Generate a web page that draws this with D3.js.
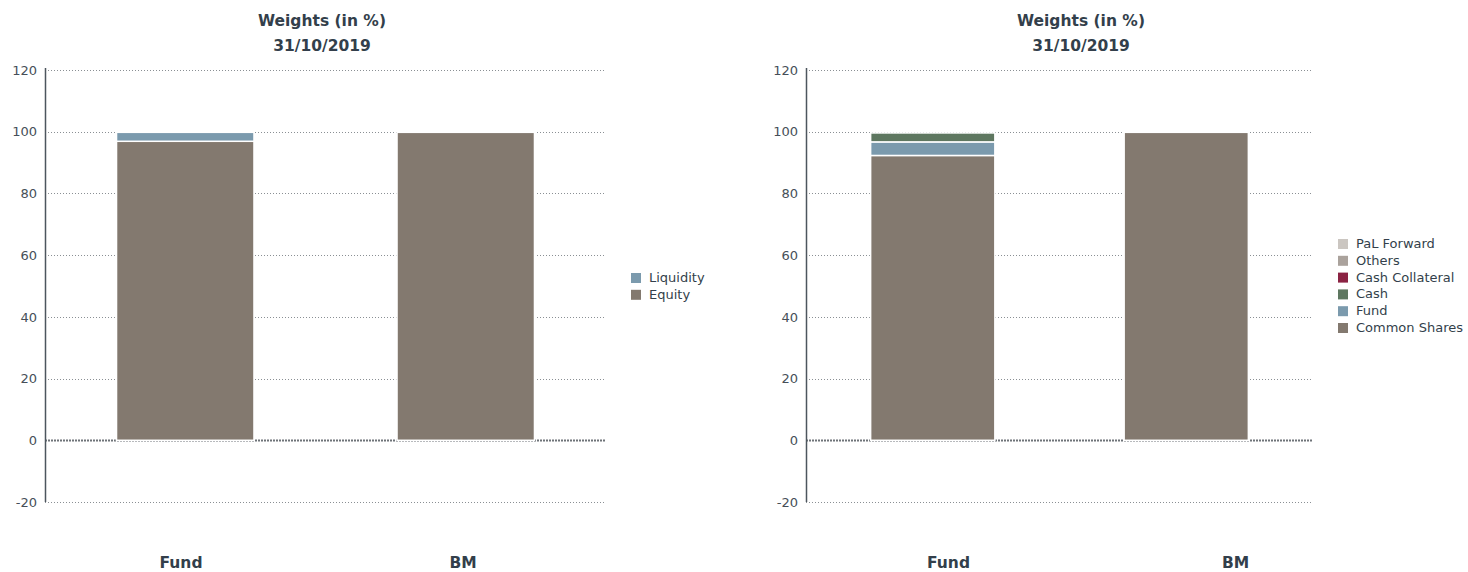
<!DOCTYPE html>
<html><head><meta charset="utf-8">
<script src="https://cdn.jsdelivr.net/npm/d3@7/dist/d3.min.js"></script>
<style>
body{margin:0;background:#fff;}
svg{display:block;font-family:"DejaVu Sans",Verdana,sans-serif;}
</style></head>
<body><svg id="c" width="1468" height="572"></svg>
<script>
const categories = ["Fund", "BM"];
const yTicks = [-20, 0, 20, 40, 60, 80, 100, 120];
const titleLines = ["Weights (in %)", "31/10/2019"];

// Chart 1 (asset class)
const series1Names = ["Equity", "Liquidity"];
const equity = [96.9, 99.8];
const liquidity = [2.9, 0];
const series1Colors = ["#83796f", "#7b9aad"];

// Chart 2 (instrument type)
const series2Names = ["Common Shares", "Fund", "Cash", "Cash Collateral", "Others", "PaL Forward"];
const commonShares = [92.3, 99.8];
const fundShares = [4.4, 0];
const cash = [2.9, 0];
const cashCollateral = [0, 0];
const others = [0, 0];
const palForward = [0, 0];
const series2Colors = ["#83796f", "#7b9aad", "#5e7760", "#8b2343", "#aaa29c", "#cbc6c1"];

const svg = d3.select("#c");

function drawChart(cfg) {
  const {x0, x1, names, values, colors, legendX, legendY, labelRange, titleX} = cfg;
  const g = svg.append("g");
  const y = d3.scaleLinear().domain([-20, 120]).range([502, 70]);
  const x = d3.scaleBand().domain(categories).range([x0, x1]).paddingInner(0.51).paddingOuter(0.255);
  const xl = d3.scaleBand().domain(categories).range(labelRange);

  // grid
  g.selectAll(".grid").data(yTicks.filter(d => d !== 0)).join("line")
    .attr("x1", x0).attr("x2", x1)
    .attr("y1", d => Math.round(y(d)) + 0.5).attr("y2", d => Math.round(y(d)) + 0.5)
    .attr("stroke", "#8a8f94").attr("stroke-width", 1).attr("stroke-dasharray", "1,2");
  // zero line
  g.append("line").attr("x1", x0).attr("x2", x1)
    .attr("y1", Math.round(y(0)) + 0.5).attr("y2", Math.round(y(0)) + 0.5)
    .attr("stroke", "#6e7378").attr("stroke-width", 2).attr("stroke-dasharray", "2,1");

  // axis
  const ax = g.append("g").attr("transform", `translate(${x0},0)`)
    .call(d3.axisLeft(y).tickValues(yTicks).tickFormat(d => String(d)).tickSize(0).tickPadding(8));
  ax.select(".domain").attr("stroke", "#4d565e").attr("stroke-width", 1.5).attr("d", `M0.5,${y(120) - 2}V${y(-20)}`);
  ax.selectAll("text").attr("font-size", 13).attr("fill", "#464f58").attr("font-family", "DejaVu Sans, Verdana, sans-serif");

  // stacked bars
  const stackData = categories.map((c, i) => {
    const o = {cat: c};
    names.forEach((n, k) => o[n] = values[k][i]);
    return o;
  });
  const stack = d3.stack().keys(names)(stackData);
  stack.forEach((layer, k) => {
    g.selectAll(null).data(layer.filter(d => d[1] - d[0] > 0)).join("rect")
      .attr("x", d => x(d.data.cat))
      .attr("width", x.bandwidth())
      .attr("y", d => y(d[1]))
      .attr("height", d => y(d[0]) - y(d[1]))
      .attr("fill", colors[k])
      .attr("stroke", "#fff").attr("stroke-width", 1.5);
  });

  // category labels
  g.selectAll(".cat").data(categories).join("text")
    .attr("x", d => xl(d) + xl.bandwidth() / 2).attr("y", 568)
    .attr("text-anchor", "middle").attr("font-size", 15.5).attr("font-weight", "bold")
    .attr("fill", "#333f4b").text(d => d);

  // title
  g.selectAll(".title").data(titleLines).join("text")
    .attr("x", titleX).attr("y", (d, i) => 26 + i * 25)
    .attr("text-anchor", "middle").attr("font-size", 15.5).attr("font-weight", "bold")
    .attr("fill", "#333f4b").text(d => d);

  // legend (reverse order)
  const leg = names.map((n, k) => ({n, c: colors[k]})).reverse();
  const lg = g.append("g").attr("transform", `translate(${legendX},${legendY})`);
  leg.forEach((d, i) => {
    lg.append("rect").attr("x", 0).attr("y", i * 16.8 - 9).attr("width", 10).attr("height", 10).attr("fill", d.c);
    lg.append("text").attr("x", 18).attr("y", i * 16.8).attr("font-size", 13)
      .attr("fill", "#333f4b").text(d.n);
  });
}

drawChart({x0: 45, x1: 606, names: series1Names, values: [equity, liquidity], colors: series1Colors,
  legendX: 631, legendY: 282, labelRange: [40, 604], titleX: 322});
drawChart({x0: 806, x1: 1313, names: series2Names,
  values: [commonShares, fundShares, cash, cashCollateral, others, palForward],
  colors: series2Colors, legendX: 1338, legendY: 248, labelRange: [805, 1379], titleX: 1081});
</script></body></html>
